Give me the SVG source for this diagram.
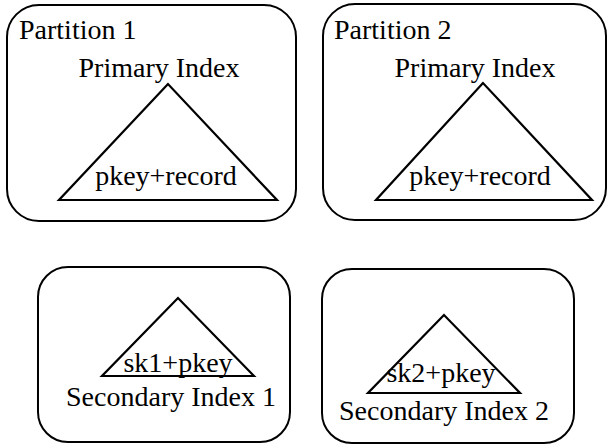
<svg xmlns="http://www.w3.org/2000/svg" width="611" height="446" viewBox="0 0 611 446">
<style>
.box{fill:none;stroke:#000;stroke-width:2}
.tri{fill:none;stroke:#000;stroke-width:2.2;stroke-linejoin:miter}
.m{text-anchor:middle}
</style>
<rect width="611" height="446" fill="#fff"/>
<g font-family="Liberation Serif, Tinos, Times New Roman, Times, DejaVu Serif, serif" font-size="28" fill="#000">
<g id="partition1">
<rect class="box" x="7" y="5" width="289" height="216" rx="32"/>
<text x="19" y="39">Partition 1</text>
<text class="m" x="159" y="77">Primary Index</text>
<polygon class="tri" points="168,84 59,200 277,200"/>
<text class="m" x="166" y="185">pkey+record</text>
</g>
<g id="partition2">
<rect class="box" x="323" y="4" width="283" height="216" rx="32"/>
<text x="334" y="39">Partition 2</text>
<text class="m" x="475" y="77">Primary Index</text>
<polygon class="tri" points="483,83 376,200 592,200"/>
<text class="m" x="480" y="185">pkey+record</text>
</g>
<g id="secondary1">
<rect class="box" x="38" y="267" width="252" height="175" rx="30"/>
<polygon class="tri" points="178,298 102,376 254,376"/>
<text class="m" x="178" y="372">sk1+pkey</text>
<text class="m" x="171" y="406">Secondary Index 1</text>
</g>
<g id="secondary2">
<rect class="box" x="322" y="269" width="252" height="174" rx="30"/>
<polygon class="tri" points="444,315 368,393 520,393"/>
<text class="m" x="441" y="382">sk2+pkey</text>
<text class="m" x="444" y="420">Secondary Index 2</text>
</g>
</g>
<g id="connectors"/>
</svg>
